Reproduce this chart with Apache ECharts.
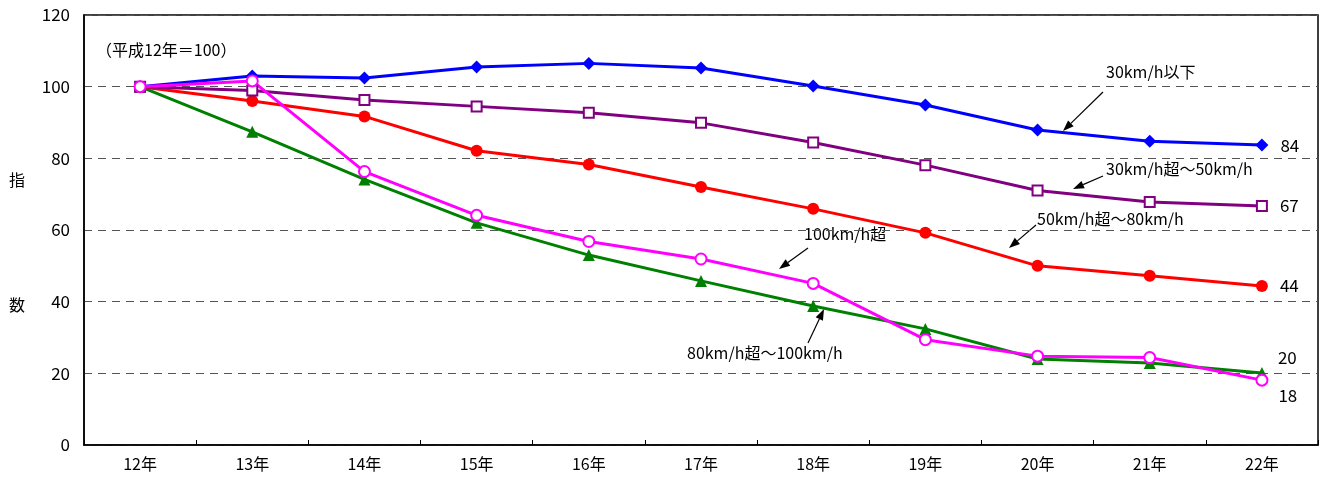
<!DOCTYPE html>
<html>
<head>
<meta charset="utf-8">
<script src="https://cdn.jsdelivr.net/npm/echarts@6/dist/echarts.min.js"></script>
<style>
html, body { margin: 0; padding: 0; background: #fff; }
#chart { width: 1327px; height: 479px; }
</style>
</head>
<body>
<div id="chart"></div>
<script>
var years = ['12年', '13年', '14年', '15年', '16年', '17年', '18年', '19年', '20年', '21年', '22年'];
var under30 = [100, 103.0, 102.4, 105.5, 106.5, 105.2, 100.2, 94.9, 87.9, 84.8, 83.7];
var from30to50 = [100, 98.9, 96.3, 94.5, 92.7, 89.9, 84.4, 78.1, 71.0, 67.8, 66.7];
var from50to80 = [100, 96.0, 91.7, 82.1, 78.3, 72.0, 65.9, 59.2, 50.0, 47.2, 44.4];
var from80to100 = [100, 87.4, 74.1, 62.0, 53.0, 45.8, 38.8, 32.4, 24.0, 22.9, 20.1];
var over100 = [100, 101.6, 76.3, 64.1, 56.8, 51.9, 45.1, 29.4, 24.8, 24.4, 18.1];
var endLabels = ['84', '67', '44', '20', '18'];

var font = '"Noto Sans CJK JP", sans-serif';

function lastLabel(text, offset) {
	return {
		show: true,
		position: 'right',
		distance: 12,
		offset: offset,
		fontFamily: font,
		fontSize: 17,
		color: '#000',
		formatter: function(p) {
			return p.dataIndex === years.length - 1 ? text : '';
		}
	};
}

function makeSeries(name, data, color, symbol, size, hollow, label) {
	return {
		name: name,
		type: 'line',
		data: data,
		symbol: symbol,
		symbolSize: size,
		showAllSymbol: true,
		lineStyle: { color: color, width: 3 },
		itemStyle: {
			color: hollow ? '#fff' : color,
			borderColor: color,
			borderWidth: hollow ? 2 : 0
		},
		label: label,
		animation: false
	};
}

function arrow(x1, y1, x2, y2) {
	var ang = Math.atan2(y2 - y1, x2 - x1);
	var len = 11, w = 4;
	var bx = x2 - len * Math.cos(ang), by = y2 - len * Math.sin(ang);
	var px = -Math.sin(ang) * w, py = Math.cos(ang) * w;
	return [
		{ type: 'line', shape: { x1: x1, y1: y1, x2: bx, y2: by }, style: { stroke: '#000', lineWidth: 1.2 } },
		{ type: 'polygon', shape: { points: [[x2, y2], [bx + px, by + py], [bx - px, by - py]] }, style: { fill: '#000' } }
	];
}

function note(text, x, y) {
	return { type: 'text', left: x, top: y - 11, style: { text: text, fontFamily: font, fontSize: 16, fill: '#000' } };
}

var graphics = [
	note('（平成12年＝100）', 96, 53),
	{ type: 'text', left: 9, top: 172, style: { text: '指', fontFamily: font, fontSize: 16, fill: '#000' } },
	{ type: 'text', left: 9, top: 297, style: { text: '数', fontFamily: font, fontSize: 16, fill: '#000' } },
	note('30km/h以下', 1106, 75),
	note('30km/h超～50km/h', 1106, 172),
	note('50km/h超～80km/h', 1037, 222),
	note('100km/h超', 804, 237),
	note('80km/h超～100km/h', 687, 356)
]
	.concat(arrow(1103, 92, 1063, 131))
	.concat(arrow(1103, 176, 1073, 189))
	.concat(arrow(1036, 225, 1009, 248))
	.concat(arrow(808, 248, 779, 269))
	.concat(arrow(808, 343, 824, 309));

var chart = echarts.init(document.getElementById('chart'));
chart.setOption({
	backgroundColor: '#fff',
	animation: false,
	grid: {
		left: 84, right: 9, top: 15, bottom: 34,
		show: true, borderColor: '#000', borderWidth: 1.5
	},
	xAxis: {
		type: 'category',
		data: years,
		boundaryGap: true,
		axisLine: { lineStyle: { color: '#000', width: 1.5 } },
		axisTick: { show: true, inside: true, length: 5, lineStyle: { color: '#000' } },
		axisLabel: { fontFamily: font, fontSize: 16, color: '#000', margin: 11 }
	},
	yAxis: {
		type: 'value',
		min: 0, max: 120, interval: 20,
		axisLine: { show: true, lineStyle: { color: '#000', width: 1.5 } },
		axisTick: { show: false },
		axisLabel: { fontFamily: font, fontSize: 17, color: '#000', margin: 14 },
		splitLine: { lineStyle: { color: '#555', type: [8, 6], width: 1 } }
	},
	series: [
		makeSeries('80km/h超～100km/h', from80to100, '#008000', 'triangle', 12, false, lastLabel(endLabels[3], [-2, -15])),
		makeSeries('50km/h超～80km/h', from50to80, '#ff0000', 'circle', 12, false, lastLabel(endLabels[2], [0, 0])),
		makeSeries('30km/h超～50km/h', from30to50, '#800080', 'rect', 10, true, lastLabel(endLabels[1], [0, 0])),
		makeSeries('30km/h以下', under30, '#0000ff', 'diamond', 13, false, lastLabel(endLabels[0], [0, 0])),
		makeSeries('100km/h超', over100, '#ff00ff', 'circle', 11, true, lastLabel(endLabels[4], [-2, 15]))
	],
	graphic: graphics
});
</script>
</body>
</html>
